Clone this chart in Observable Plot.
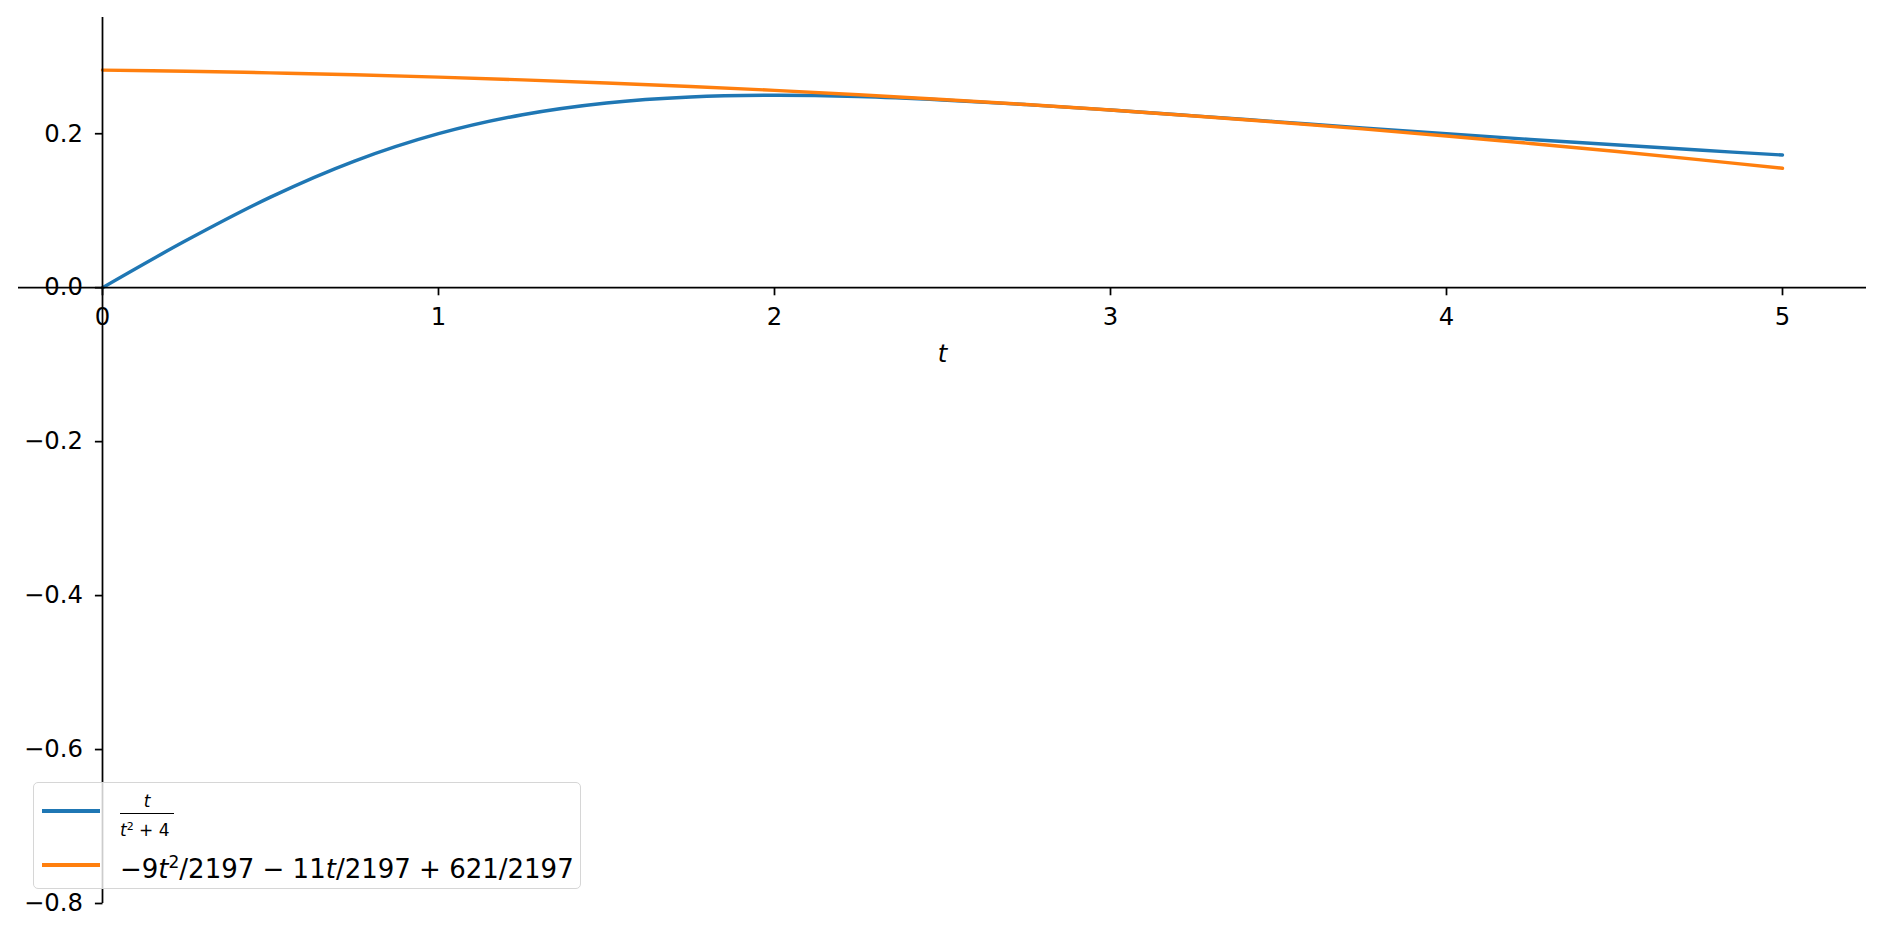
<!DOCTYPE html>
<html>
<head>
<meta charset="utf-8">
<script src="https://cdn.jsdelivr.net/npm/d3@7"></script>
<script src="https://cdn.jsdelivr.net/npm/@observablehq/plot@0.6"></script>
<style>
  html, body { margin: 0; padding: 0; background: #fff; }
  #wrap { position: relative; width: 1885px; height: 939px; font-family: "DejaVu Sans", sans-serif; }
  #legend { position: absolute; left: 33px; top: 782px; width: 546px; height: 105px;
    border: 1.6px solid #d6d6d6; border-radius: 5px; background: rgba(255,255,255,0.8); }
  #legend .sw { position: absolute; left: 8px; width: 58px; height: 3.3px; }
  #legend .it { font-style: italic; }
  #legend .abs { position: absolute; white-space: nowrap; color: #000; }
</style>
</head>
<body>
<div id="wrap"></div>
<script>
// ---- data ----
const tValues = [0, 0.25, 0.5, 0.75, 1, 1.25, 1.5, 1.75, 2, 2.25, 2.5, 2.75, 3, 3.25, 3.5, 3.75, 4, 4.25, 4.5, 4.75, 5];
const blueValues = [0, 0.0615, 0.1176, 0.1644, 0.2, 0.2247, 0.24, 0.2478, 0.25, 0.2483, 0.2439, 0.2378, 0.2308, 0.2232, 0.2154, 0.2076, 0.2, 0.1926, 0.1856, 0.1788, 0.1724];
const orangeValues = [0.2827, 0.2812, 0.2791, 0.2766, 0.2736, 0.27, 0.2659, 0.2614, 0.2563, 0.2507, 0.2445, 0.2379, 0.2308, 0.2231, 0.215, 0.2063, 0.1971, 0.1874, 0.1772, 0.1664, 0.1552];
const seriesNames = ["t/(t^2+4)", "-9t^2/2197 - 11t/2197 + 621/2197"];
const seriesColors = ["#1f77b4", "#ff7f0e"];
const xTicks = [0, 1, 2, 3, 4, 5];
const yTicks = [-0.8, -0.6, -0.4, -0.2, 0.0, 0.2];
const xDomain = [-0.25, 5.25];
const yDomain = [-0.8, 0.351];
const xLabel = "t";

// ---- build table ----
const rows = [];
tValues.forEach((t, i) => {
  rows.push({t, v: blueValues[i], s: seriesNames[0]});
  rows.push({t, v: orangeValues[i], s: seriesNames[1]});
});

const tickLen = 7.6;
const tickDown = {draw(ctx) { ctx.moveTo(0, 0); ctx.lineTo(0, tickLen); }};
const tickLeft = {draw(ctx) { ctx.moveTo(0, 0); ctx.lineTo(-tickLen, 0); }};
const fmtY = d => d3.format(".1f")(d).replace("-", "\u2212");

const chart = Plot.plot({
  width: 1885,
  height: 939,
  marginLeft: 18,
  marginRight: 19,
  marginTop: 17,
  marginBottom: 36,
  style: {fontFamily: "DejaVu Sans, sans-serif", background: "#fff", color: "#000"},
  x: {domain: xDomain, axis: null},
  y: {domain: yDomain, axis: null},
  color: {domain: seriesNames, range: seriesColors},
  marks: [
    Plot.line(rows, {x: "t", y: "v", z: "s", stroke: "s", strokeWidth: 3.4, curve: "catmull-rom"}),
    Plot.ruleY([0], {stroke: "#000", strokeWidth: 1.75}),
    Plot.ruleX([0], {stroke: "#000", strokeWidth: 1.75}),
    Plot.dot(xTicks, {x: d => d, y: () => 0, symbol: tickDown, stroke: "#000", fill: "none", strokeWidth: 1.75}),
    Plot.dot(yTicks, {x: () => 0, y: d => d, symbol: tickLeft, stroke: "#000", fill: "none", strokeWidth: 1.75}),
    Plot.text(xTicks, {x: d => d, y: () => 0, text: d => String(d), dy: 30, fontSize: 24.3, fill: "#000"}),
    Plot.text(yTicks, {x: () => 0, y: d => d, text: fmtY, dx: -19.5, textAnchor: "end", fontSize: 24.3, fill: "#000"}),
    Plot.text([xLabel], {x: () => (xDomain[0] + xDomain[1]) / 2, y: () => 0, text: d => d, dy: 67, fontSize: 24.3, fontStyle: "italic", fill: "#000"})
  ]
});

const wrap = document.getElementById("wrap");
wrap.appendChild(chart);

const legend = document.createElement("div");
legend.id = "legend";
legend.innerHTML = `
  <div class="sw" style="top:26.4px;background:${seriesColors[0]}"></div>
  <div class="sw" style="top:80.4px;background:${seriesColors[1]}"></div>
  <div class="abs it" style="left:86px;top:8px;width:54px;text-align:center;font-size:17px;line-height:20px;">t</div>
  <div class="abs" style="left:86px;top:29.5px;width:54px;height:1.3px;background:#000;"></div>
  <div class="abs" style="left:86px;top:33px;font-size:17px;line-height:22px;"><span class="it">t</span><sup style="font-size:11px;vertical-align:6px;">2</sup> + 4</div>
  <div class="abs" style="left:86px;top:64px;font-size:26px;line-height:30px;">\u22129<span class="it">t</span><sup style="font-size:17px;vertical-align:10px;">2</sup>/2197 \u2212 11<span class="it">t</span>/2197 + 621/2197</div>
`;
wrap.appendChild(legend);
</script>
</body>
</html>
